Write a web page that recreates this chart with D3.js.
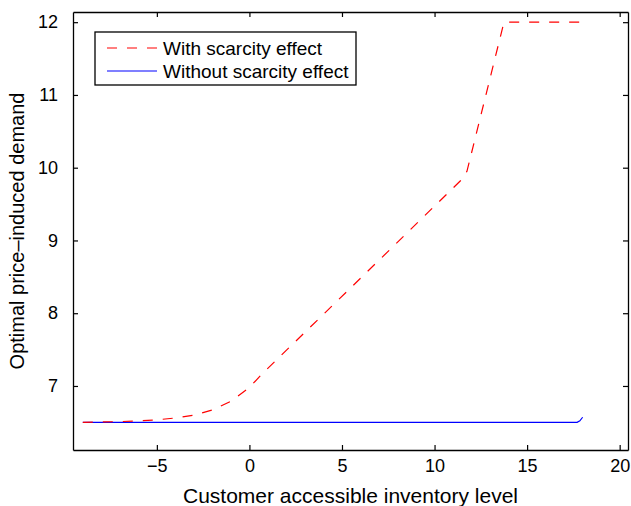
<!DOCTYPE html>
<html>
<head>
<meta charset="utf-8">
<script src="https://cdn.jsdelivr.net/npm/d3@7"></script>
<style>
  body { margin: 0; background: #fff; }
  text { font-family: "Liberation Sans", Arial, sans-serif; fill: #000; }
</style>
</head>
<body>
<svg id="chart" width="631" height="506"></svg>
<script>
// curve with scarcity effect
const xScarcity = [-9, -8, -7, -6, -5, -4, -3, -2, -1, 0, 0.7, 6, 11.4, 11.6, 11.75, 13.75, 18];
const yScarcity = [6.5, 6.505, 6.51, 6.52, 6.535, 6.56, 6.6, 6.67, 6.79, 6.98, 7.17, 8.48, 9.82, 9.88, 9.95, 12, 12];

// curve without scarcity effect
const xNoScarcity = [-9, 17.7, 17.85, 18];
const yNoScarcity = [6.5, 6.5, 6.52, 6.57];

const xTicks = [-5, 0, 5, 10, 15, 20];
const yTicks = [7, 8, 9, 10, 11, 12];
const legendLabels = ["With scarcity effect", "Without scarcity effect"];

const margin = { top: 12, right: 3, bottom: 56, left: 73 };
const width = 631 - margin.left - margin.right;
const height = 506 - margin.top - margin.bottom;

const svg = d3.select("#chart");
const g = svg.append("g")
  .attr("transform", "translate(" + margin.left + "," + margin.top + ")");

const x = d3.scaleLinear().domain([-9.53, 20.45]).range([0, width]);
const y = d3.scaleLinear().domain([6.12, 12.14]).range([height, 0]);

const fmt = d => d3.format("d")(d);

// axes, ticks inward on all four sides
g.append("g")
  .attr("transform", "translate(0," + height + ")")
  .call(d3.axisBottom(x).tickValues(xTicks).tickSizeInner(-5).tickSizeOuter(0).tickPadding(9).tickFormat(fmt));
g.append("g")
  .call(d3.axisTop(x).tickValues(xTicks).tickSizeInner(-5).tickSizeOuter(0).tickFormat(""));
g.append("g")
  .call(d3.axisLeft(y).tickValues(yTicks).tickSizeInner(-5).tickSizeOuter(0).tickPadding(15).tickFormat(fmt));
g.append("g")
  .attr("transform", "translate(" + width + ",0)")
  .call(d3.axisRight(y).tickValues(yTicks).tickSizeInner(-5).tickSizeOuter(0).tickFormat(""));

g.selectAll(".domain").attr("stroke", "#000").attr("stroke-width", 1.3);
g.selectAll(".tick line").attr("stroke", "#000").attr("stroke-width", 1.2);
g.selectAll(".tick text").style("font-size", "18px").attr("fill", "#000");

const line = d3.line().x(d => x(d[0])).y(d => y(d[1]));

g.append("path")
  .datum(xNoScarcity.map((v, i) => [v, yNoScarcity[i]]))
  .attr("fill", "none")
  .attr("stroke", "#0000ff")
  .attr("stroke-width", 1.2)
  .attr("d", line);

g.append("path")
  .datum(xScarcity.map((v, i) => [v, yScarcity[i]]))
  .attr("fill", "none")
  .attr("stroke", "#ff0000")
  .attr("stroke-width", 1.2)
  .attr("stroke-dasharray", "10,10")
  .attr("d", line);

// legend
const legend = g.append("g").attr("transform", "translate(22,20)");
legend.append("rect")
  .attr("width", 261).attr("height", 53)
  .attr("fill", "#fff").attr("stroke", "#000").attr("stroke-width", 1.3);
const styles = [
  { color: "#ff0000", dash: "10,10" },
  { color: "#0000ff", dash: null }
];
legendLabels.forEach((label, i) => {
  const yy = 16 + i * 23;
  legend.append("line")
    .attr("x1", 12).attr("x2", 62).attr("y1", yy).attr("y2", yy)
    .attr("stroke", styles[i].color).attr("stroke-width", 1.2)
    .attr("stroke-dasharray", styles[i].dash);
  legend.append("text")
    .attr("x", 68).attr("y", yy)
    .attr("dy", "0.35em")
    .style("font-size", "19px")
    .text(label);
});

// axis titles
svg.append("text")
  .attr("x", margin.left + width / 2)
  .attr("y", 503)
  .attr("text-anchor", "middle")
  .style("font-size", "21px")
  .text("Customer accessible inventory level");

svg.append("text")
  .attr("transform", "translate(24," + (margin.top + height / 2) + ") rotate(-90)")
  .attr("text-anchor", "middle")
  .style("font-size", "20px")
  .text("Optimal price\u2013induced demand");
</script>
</body>
</html>
